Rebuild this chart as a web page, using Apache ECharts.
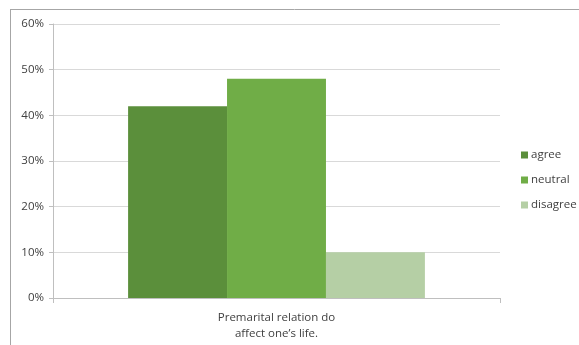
<!DOCTYPE html>
<html>
<head>
<meta charset="utf-8">
<script src="https://cdn.jsdelivr.net/npm/echarts@6/dist/echarts.min.js"></script>
<style>html,body{margin:0;padding:0;background:#fff}#c{width:579px;height:345px}</style>
</head>
<body>
<div id="c"></div>
<script>
const categories = ["Premarital relation do\naffect one\u2019s life."];
const seriesNames = ["agree", "neutral", "disagree"];
const agree = [42];
const neutral = [48];
const disagree = [10];
const yTicks = [0, 10, 20, 30, 40, 50, 60];

const colors = ["#5b8f3b", "#70ad47", "#b5cfa5"];
const values = [agree, neutral, disagree];
const font = "'Open Sans', 'Liberation Sans', sans-serif";

const chart = echarts.init(document.getElementById('c'), null, {renderer: 'canvas'});
chart.setOption({
  animation: false,
  backgroundColor: '#fff',
  textStyle: {fontFamily: font},
  graphic: [
    {type: 'line', shape: {x1: 10, y1: 9.5, x2: 579, y2: 9.5}, style: {stroke: '#a6a6a6', lineWidth: 1}},
    {type: 'line', shape: {x1: 10.5, y1: 9, x2: 10.5, y2: 345}, style: {stroke: '#a6a6a6', lineWidth: 1}}
  ],
  grid: {left: 53, right: 79, top: 24, bottom: 47},
  legend: {
    orient: 'vertical', left: 516, top: 144,
    itemWidth: 7, itemHeight: 7, itemGap: 13,
    icon: 'rect',
    textStyle: {fontSize: 11.5, color: '#404040', fontFamily: font, padding: [0, 0, 0, -2]},
    data: seriesNames
  },
  xAxis: {
    type: 'category', data: categories,
    axisLine: {lineStyle: {color: '#bfbfbf'}},
    axisTick: {show: true, length: 5, lineStyle: {color: '#bfbfbf'}},
    axisLabel: {fontSize: 11.5, color: '#404040', lineHeight: 16, margin: 12, fontFamily: font}
  },
  yAxis: {
    type: 'value', min: yTicks[0], max: yTicks[yTicks.length - 1], interval: 10,
    axisLine: {show: true, lineStyle: {color: '#bfbfbf'}},
    axisTick: {show: true, length: 4, lineStyle: {color: '#bfbfbf'}},
    splitLine: {lineStyle: {color: '#d9d9d9'}},
    axisLabel: {formatter: '{value}%', fontSize: 11.5, color: '#404040', margin: 9, fontFamily: font}
  },
  series: seriesNames.map((n, i) => ({
    name: n, type: 'bar', data: values[i],
    barGap: '0%', barCategoryGap: '33.6%',
    itemStyle: {color: colors[i]}
  }))
});
</script>
</body>
</html>
